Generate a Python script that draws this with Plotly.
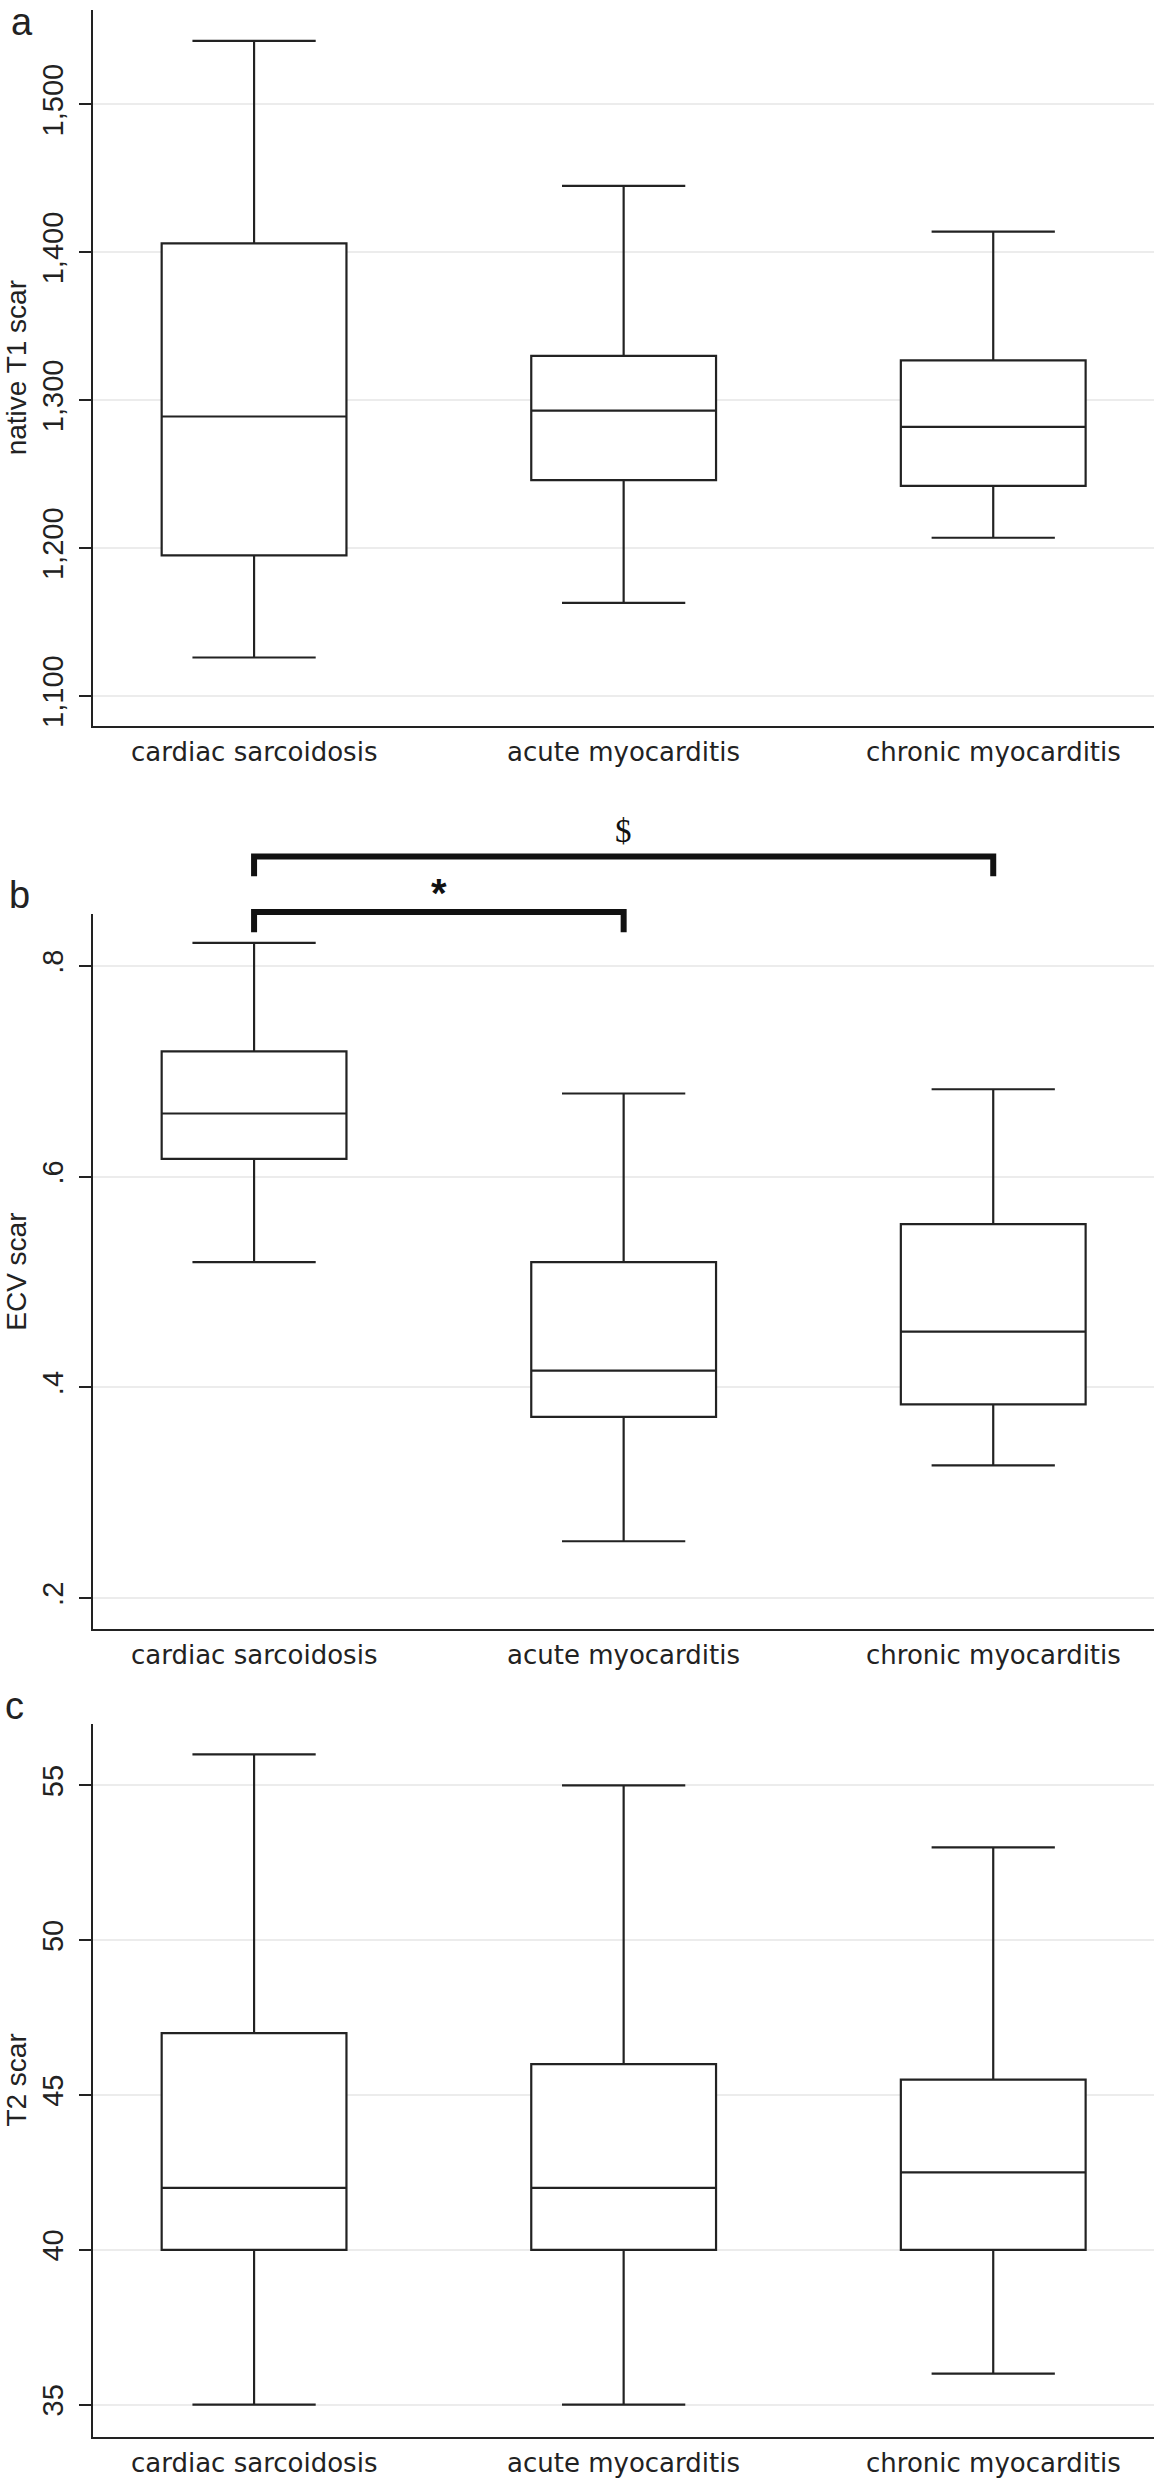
import plotly.graph_objects as go

W, H = 1154, 2480

categories = ["cardiac sarcoidosis", "acute myocarditis", "chronic myocarditis"]

# Panel a: native T1 scar (box statistics)
t1_lower = [1126, 1163, 1207]
t1_q1 = [1195, 1246, 1242]
t1_median = [1289, 1293, 1282]
t1_q3 = [1406, 1330, 1327]
t1_upper = [1543, 1445, 1414]
t1_ticks = [1100, 1200, 1300, 1400, 1500]

# Panel b: ECV scar
ecv_lower = [0.519, 0.254, 0.326]
ecv_q1 = [0.617, 0.372, 0.384]
ecv_median = [0.660, 0.416, 0.453]
ecv_q3 = [0.719, 0.519, 0.555]
ecv_upper = [0.822, 0.679, 0.683]
ecv_ticks = [0.2, 0.4, 0.6, 0.8]
ecv_ticklabels = [".2", ".4", ".6", ".8"]

# Panel c: T2 scar
t2_lower = [35, 35, 36]
t2_q1 = [40, 40, 40]
t2_median = [42, 42, 42.5]
t2_q3 = [47, 46, 45.5]
t2_upper = [56, 55, 53]
t2_ticks = [35, 40, 45, 50, 55]

# Significance brackets in panel b (ECV units)
sig_pairs = [(0, 1), (0, 2)]
sig_labels = ["*", "$"]
sig_levels = [0.8513, 0.9039]
sig_tick_ends = [0.8321, 0.8852]

panel_letters = ["a", "b", "c"]
y_titles = ["native T1 scar", "ECV scar", "T2 scar"]

# ---------------- layout geometry (pixels) ----------------
LEFT = 93.3
panels_px = [(10.0, 726.4), (914.7, 1630.0), (1724.9, 2438.8)]
y_ranges = [[1079.8, 1563.9], [0.171, 0.8494], [33.96, 57.0]]
x_range = [-0.435, 2.435]

INK = "#222222"
GRID = "#ececec"
SANS = "Liberation Sans, Arial, Helvetica, sans-serif"
WIDE = "DejaVu Sans, Verdana, sans-serif"
SERIF = "Liberation Serif, Times New Roman, serif"
ASC, DESC = 0.905, 0.212   # Liberation Sans ascent / descent (em)


def pp(y_px):
    return 1 - y_px / H


def dom(i):
    top, bot = panels_px[i]
    return [pp(bot), pp(top)]


def val_to_paper(i, v):
    d0, d1 = dom(i)
    r0, r1 = y_ranges[i]
    return d0 + (v - r0) / (r1 - r0) * (d1 - d0)


fig = go.Figure()

stats = [
    (t1_lower, t1_q1, t1_median, t1_q3, t1_upper),
    (ecv_lower, ecv_q1, ecv_median, ecv_q3, ecv_upper),
    (t2_lower, t2_q1, t2_median, t2_q3, t2_upper),
]
for i, (lo, q1, me, q3, up) in enumerate(stats):
    sfx = "" if i == 0 else str(i + 1)
    fig.add_trace(go.Box(
        x=categories, lowerfence=lo, q1=q1, median=me, q3=q3, upperfence=up,
        width=0.5, whiskerwidth=0.667, boxpoints=False,
        line=dict(color=INK, width=2.2), fillcolor="white",
        showlegend=False, hoverinfo="skip",
        xaxis="x" + sfx, yaxis="y" + sfx,
    ))

tick_defs = [
    dict(tickvals=t1_ticks, ticktext=[f"{v:,}" for v in t1_ticks]),
    dict(tickvals=ecv_ticks, ticktext=ecv_ticklabels),
    dict(tickvals=t2_ticks, ticktext=[str(v) for v in t2_ticks]),
]

layout = dict(
    width=W, height=H,
    margin=dict(l=0, r=0, t=0, b=0),
    paper_bgcolor="white", plot_bgcolor="white",
    showlegend=False,
)
for i in range(3):
    sfx = "" if i == 0 else str(i + 1)
    layout["xaxis" + sfx] = dict(
        domain=[LEFT / W, 1.0], anchor="y" + sfx, type="category",
        categoryorder="array", categoryarray=categories,
        range=x_range, showline=True, linecolor=INK, linewidth=2,
        ticks="", showgrid=False, zeroline=False, showticklabels=False,
    )
    layout["yaxis" + sfx] = dict(
        domain=dom(i), anchor="x" + sfx, range=y_ranges[i],
        showline=True, linecolor=INK, linewidth=2,
        ticks="outside", ticklen=12, tickwidth=2, tickcolor=INK,
        showgrid=True, gridcolor=GRID, gridwidth=2, zeroline=False,
        tickangle=-90, tickfont=dict(family=SANS, size=29, color=INK),
        ticklabelstandoff=5,
        **tick_defs[i],
    )
fig.update_layout(**layout)

annotations = []

# category labels under each panel, placed on the category axis
cat_fs = 26
for i in range(3):
    sfx = "" if i == 0 else str(i + 1)
    for c in categories:
        annotations.append(dict(
            text=c, xref="x" + sfx, x=c, xanchor="center",
            yref=f"y{sfx} domain", y=0, yanchor="top", yshift=-10.5,
            showarrow=False, borderpad=0,
            font=dict(family=WIDE, size=cat_fs, color=INK),
        ))

# y-axis titles (rotated, reading bottom to top)
title_fs = 28
title_base = 26.0
for i, t in enumerate(y_titles):
    top, bot = panels_px[i]
    annotations.append(dict(
        text=t, textangle=-90, xref="paper", yref="paper",
        x=(title_base + DESC * title_fs) / W, xanchor="right",
        y=pp((top + bot) / 2), yanchor="middle", showarrow=False,
        borderpad=0, borderwidth=0,
        font=dict(family=SANS, size=title_fs, color=INK),
    ))

# panel letters: (x centre px, baseline px)
letter_fs = 38
letter_pos = [(22.0, ASC * 38 + 0.5), (19.5, 909.0), (14.0, 1720.0)]
for L, (xc, base) in zip(panel_letters, letter_pos):
    annotations.append(dict(
        text=L, xref="paper", yref="paper", x=xc / W, xanchor="center",
        y=pp(base + DESC * letter_fs), yanchor="bottom", showarrow=False,
        borderpad=0, borderwidth=0,
        font=dict(family=SANS, size=letter_fs, color=INK),
    ))

# significance brackets and marks (panel b)
shapes = []
for (a, b), lvl, tick_end in zip(sig_pairs, sig_levels, sig_tick_ends):
    yl = val_to_paper(1, lvl)
    yt = val_to_paper(1, tick_end)
    shapes.append(dict(
        type="path", xref="x2", yref="paper",
        path=f"M {a},{yt} L {a},{yl} L {b},{yl} L {b},{yt}",
        line=dict(color="#111111", width=6),
    ))
sig_fonts = [dict(family=SANS, size=40, color="#111111", weight="bold"),
             dict(family=SERIF, size=33, color="#111111")]
sig_centers_px = [894.0, 831.5]
for (a, b), lab, f, cy in zip(sig_pairs, sig_labels, sig_fonts, sig_centers_px):
    annotations.append(dict(
        text=lab, xref="x2", yref="paper", x=(a + b) / 2, xanchor="center",
        y=pp(cy), yanchor="middle", showarrow=False, font=f,
    ))

fig.update_layout(annotations=annotations, shapes=shapes)
fig.write_html(
    "out.html",
    config={"displayModeBar": False},
    post_script="document.body.style.margin='0';document.body.style.padding='0';",
)
